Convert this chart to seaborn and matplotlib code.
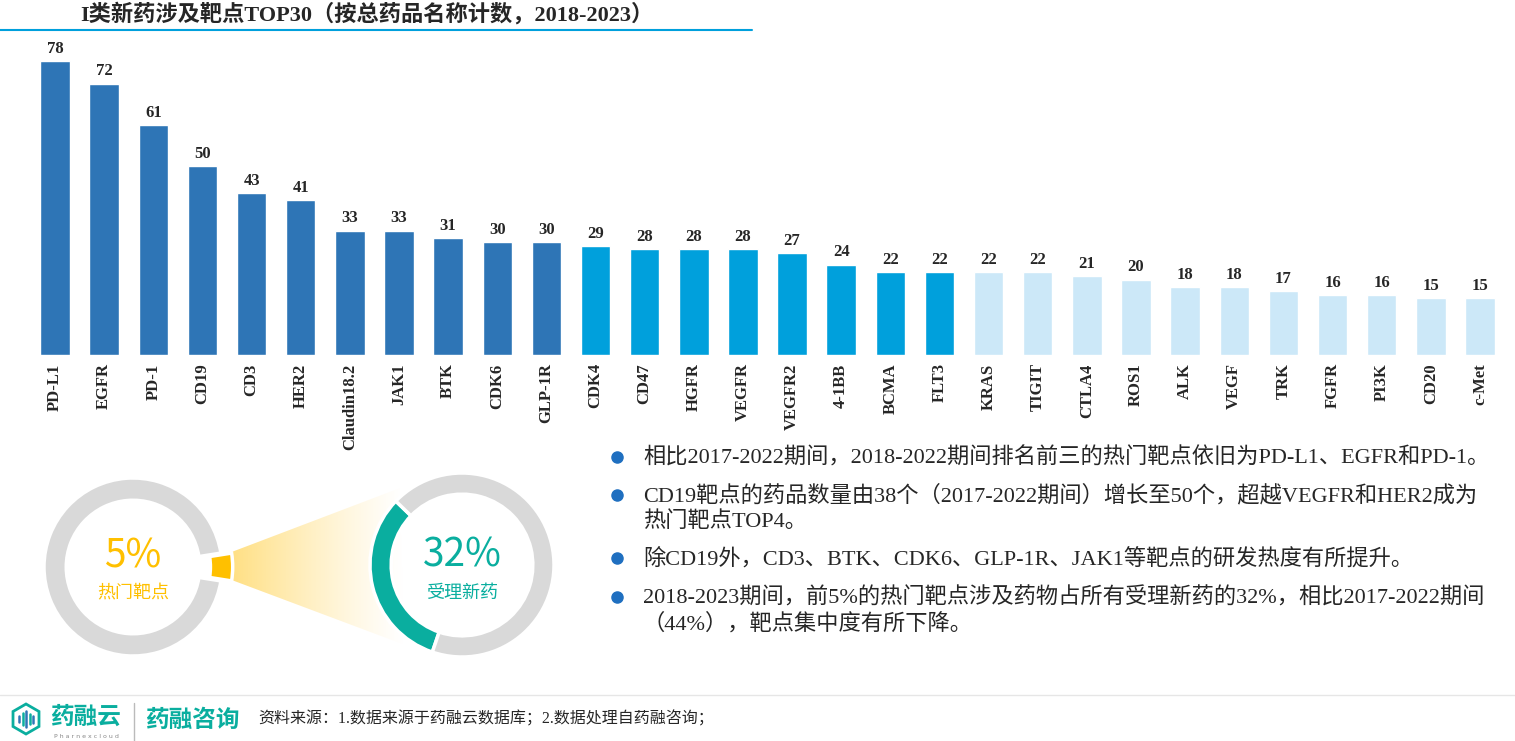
import numpy as np
import pandas as pd
import seaborn as sns
import matplotlib.pyplot as plt
from matplotlib.patches import Polygon, RegularPolygon

# data
targets = ['PD-L1', 'EGFR', 'PD-1', 'CD19', 'CD3', 'HER2', 'Claudin18.2', 'JAK1',
           'BTK', 'CDK6', 'GLP-1R', 'CDK4', 'CD47', 'HGFR', 'VEGFR', 'VEGFR2',
           '4-1BB', 'BCMA', 'FLT3', 'KRAS', 'TIGIT', 'CTLA4', 'ROS1', 'ALK',
           'VEGF', 'TRK', 'FGFR', 'PI3K', 'CD20', 'c-Met']
counts = [78, 72, 61, 50, 43, 41, 33, 33, 31, 30, 30, 29, 28, 28, 28, 27,
          24, 22, 22, 22, 22, 21, 20, 18, 18, 17, 16, 16, 15, 15]
tiers = ['top'] * 11 + ['mid'] * 8 + ['low'] * 11
tier_colors = {'top': '#2E75B6', 'mid': '#00A0DC', 'low': '#CCE8F8'}

hot_share = [5, 95]      # 热门靶点 share of targets
drug_share = [32, 68]    # 受理新药 share

bullets = [
    '相比2017-2022期间，2018-2022期间排名前三的热门靶点依旧为PD-L1、EGFR和PD-1。',
    'CD19靶点的药品数量由38个（2017-2022期间）增长至50个，超越VEGFR和HER2成为\n热门靶点TOP4。',
    '除CD19外，CD3、BTK、CDK6、GLP-1R、JAK1等靶点的研发热度有所提升。',
    '2018-2023期间，前5%的热门靶点涉及药物占所有受理新药的32%，相比2017-2022期间\n（44%），靶点集中度有所下降。',
]

df = pd.DataFrame({'target': targets, 'count': counts, 'tier': tiers})

sns.set_theme(style='white')
serif_cjk = ['Liberation Serif', 'Noto Sans CJK SC', 'DejaVu Sans']
sans_cjk = ['Noto Sans CJK SC', 'DejaVu Sans']
plt.rcParams['font.family'] = serif_cjk

W, H = 1515, 741
fig = plt.figure(figsize=(W / 100, H / 100), dpi=100)


def px_axes(x0, y0, x1, y1, **kw):
    # axes from pixel box (top-left origin)
    return fig.add_axes([x0 / W, 1 - y1 / H, (x1 - x0) / W, (y1 - y0) / H], **kw)


# background overlay in pixel coords
bg = px_axes(0, 0, W, H)
bg.axis('off')
bg.set_zorder(0)

# title + rule
fig.text(80 / W, 1 - 14 / H, 'I类新药涉及靶点TOP30（按总药品名称计数，2018-2023）',
         fontsize=16, fontweight='bold', va='center', ha='left', family=serif_cjk)
bg.plot([0, 752], [30, 30], color='#00A0DC', lw=1.5)

# bar chart
ax = px_axes(30.5, 53.4, 1504.5, 355)
ax.set_zorder(2)
sns.barplot(data=df, x='target', y='count', hue='tier', palette=tier_colors,
            dodge=False, width=0.6, legend=False, ax=ax, saturation=1)
ax.set_xlim(-0.5, 29.5)
ax.set_ylim(0, 80)
for c in ax.containers:
    ax.bar_label(c, fontsize=12, fontweight='bold', padding=3, family='Liberation Serif')
ax.set_xlabel('')
ax.set_ylabel('')
ax.set_yticks([])
ax.tick_params(axis='x', length=0, pad=6)
for lab in ax.get_xticklabels():
    lab.set_rotation(90)
    lab.set_fontweight('bold')
    lab.set_fontsize(12)
    lab.set_family('Liberation Serif')
sns.despine(ax=ax, left=True, bottom=True)
ax.patch.set_alpha(0)

# gradient wedge linking donuts
tri = Polygon([[229, 553], [229, 579], [405, 645], [400, 488]], closed=True,
              facecolor='none', edgecolor='none')
bg.add_patch(tri)
grad = np.zeros((10, 200, 4))
grad[..., 0] = 1.0
grad[..., 1] = 0.85
grad[..., 2] = 0.40
grad[..., 3] = np.linspace(0.85, 0.0, 200)[None, :] ** 1.2
im = bg.imshow(grad, extent=[229, 405, 645, 488], aspect='auto', zorder=1)
im.set_clip_path(tri)

# footer
bg.plot([0, W], [695, 695], color='#E6E6E6', lw=1)
bg.add_patch(RegularPolygon((26, 719), numVertices=6, radius=15, orientation=0,
                            facecolor='none', edgecolor='#0AAE9F', lw=2))
for i, (h, col) in enumerate(zip([6, 12, 16, 10, 7],
                                 ['#2E75B6', '#0AAE9F', '#2E75B6', '#0AAE9F', '#2E75B6'])):
    bg.plot([19 + i * 3.5] * 2, [719 - h / 2, 719 + h / 2], color=col, lw=1.8)
bg.plot([134, 134], [703, 741], color='#BBBBBB', lw=1)

bg.set_xlim(0, W)
bg.set_ylim(H, 0)

fig.text(50 / W, 1 - 717 / H, '药融云', color='#0AAE9F', fontsize=17, fontweight='bold',
         va='center', family=sans_cjk)
fig.text(54 / W, 1 - 736 / H, 'P h a r n e x c l o u d', color='#888888', fontsize=4.5,
         va='center', family='DejaVu Sans')
fig.text(145 / W, 1 - 720 / H, '药融咨询', color='#0AAE9F', fontsize=17, fontweight='bold',
         va='center', family=sans_cjk)
fig.text(258 / W, 1 - 719 / H, '资料来源：1.数据来源于药融云数据库；2.数据处理自药融咨询；',
         fontsize=11.5, va='center', family=serif_cjk)

# left donut
r1 = 89
ax1 = px_axes(133 - 1.25 * r1, 567 - 1.25 * r1, 133 + 1.25 * r1, 567 + 1.25 * r1)
ax1.set_zorder(3)
ax1.pie(hot_share, colors=['#FFC000', '#D9D9D9'], startangle=-9, counterclock=True,
        explode=[0.12, 0], radius=1,
        wedgeprops=dict(width=0.25, edgecolor='white', linewidth=2.5))
ax1.set_xlim(-1.25, 1.25)
ax1.set_ylim(-1.25, 1.25)
ax1.text(0, 0.12, '5%', color='#FFC000', fontsize=28, ha='center', va='center',
         family=sans_cjk)
ax1.text(0, -0.3, '热门靶点', color='#FFC000', fontsize=13, ha='center', va='center',
         family=sans_cjk)

# right donut
r2 = 92
ax2 = px_axes(462 - 1.25 * r2, 565 - 1.25 * r2, 462 + 1.25 * r2, 565 + 1.25 * r2)
ax2.set_zorder(3)
ax2.pie(drug_share, colors=['#0AAE9F', '#D9D9D9'], startangle=136, counterclock=True,
        radius=1, wedgeprops=dict(width=0.23, edgecolor='white', linewidth=2.5))
ax2.set_xlim(-1.25, 1.25)
ax2.set_ylim(-1.25, 1.25)
ax2.text(0, 0.1, '32%', color='#0AAE9F', fontsize=28, ha='center', va='center',
         family=sans_cjk)
ax2.text(0, -0.3, '受理新药', color='#0AAE9F', fontsize=13, ha='center', va='center',
         family=sans_cjk)

# bullet notes
bullet_y = [457, 495, 558, 597]
for y, txt in zip(bullet_y, bullets):
    bg.plot(617, y, 'o', color='#1F6FC0', ms=8)
    fig.text(643 / W, 1 - (y - 10) / H, txt, fontsize=16, va='top', ha='left',
             linespacing=1.3, family=serif_cjk)

fig.savefig('out.png', dpi=100)
